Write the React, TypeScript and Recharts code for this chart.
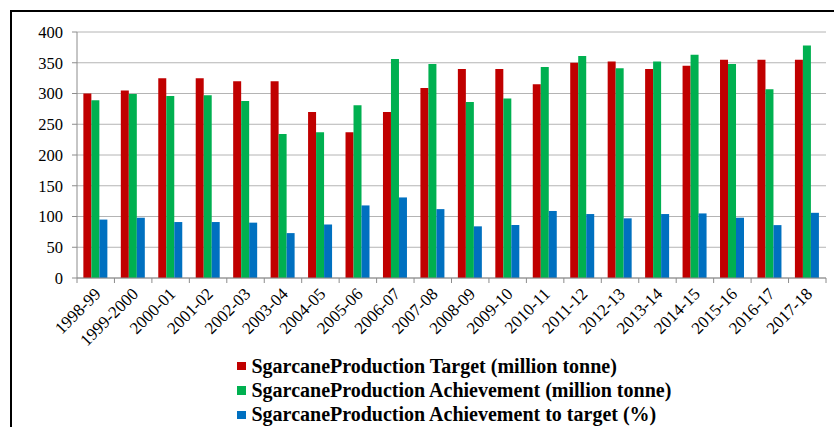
import { Bar, BarChart, CartesianGrid, Legend, XAxis, YAxis } from 'recharts'

// 사탕수수 생산 목표/실적 (1998-99 ~ 2017-18)
const years = [
  '1998-99', '1999-2000', '2000-01', '2001-02', '2002-03', '2003-04', '2004-05',
  '2005-06', '2006-07', '2007-08', '2008-09', '2009-10', '2010-11', '2011-12',
  '2012-13', '2013-14', '2014-15', '2015-16', '2016-17', '2017-18',
]
const target = [300, 305, 325, 325, 320, 320, 270, 237, 270, 309, 340, 340, 315, 350, 352, 340, 345, 355, 355, 355]
const achievement = [289, 299, 296, 297, 288, 234, 237, 281, 356, 348, 286, 292, 343, 361, 341, 352, 363, 348, 307, 378]
const pctOfTarget = [95, 98, 91, 91, 90, 73, 87, 118, 131, 112, 84, 86, 109, 104, 97, 104, 105, 98, 86, 106]
const yTicks = [0, 50, 100, 150, 200, 250, 300, 350, 400]

const SERIES = [
  { key: 'target', name: 'SgarcaneProduction Target (million tonne)', color: '#C00000' },
  { key: 'achievement', name: 'SgarcaneProduction Achievement (million tonne)', color: '#00B050' },
  { key: 'pct', name: 'SgarcaneProduction Achievement to target (%)', color: '#0070C0' },
]

const data = years.map((y, i) => ({
  year: y,
  target: target[i],
  achievement: achievement[i],
  pct: pctOfTarget[i],
}))

const FONT = '"Liberation Serif", "Times New Roman", serif'
const PLOT_W = 749
const BAND = PLOT_W / years.length

function XTick(props: any) {
  const { x, y, payload, index } = props
  const tx = x + 6
  const ty = y + 9
  return (
    <g>
      <line x1={x - BAND / 2} x2={x - BAND / 2} y1={y - 8} y2={y - 3} stroke="#8c8c8c" />
      {index === years.length - 1 && (
        <line x1={x + BAND / 2} x2={x + BAND / 2} y1={y - 8} y2={y - 3} stroke="#8c8c8c" />
      )}
      <text
        x={tx}
        y={ty}
        textAnchor="end"
        fontSize={17}
        fontFamily={FONT}
        fill="#000"
        transform={`rotate(-45, ${tx}, ${ty})`}
      >
        {payload.value}
      </text>
    </g>
  )
}

function LegendBox(props: any) {
  return (
    <div style={{ fontFamily: FONT, fontWeight: 'bold', fontSize: 20, color: '#000' }}>
      {SERIES.map((s) => (
        <div key={s.key} style={{ display: 'flex', alignItems: 'center', height: 24.4 }}>
          <span style={{ width: 8.5, height: 8.5, background: s.color, marginRight: 6, display: 'inline-block' }} />
          <span>{s.name}</span>
        </div>
      ))}
    </div>
  )
}

export default function App() {
  return (
    <div style={{ position: 'absolute', left: 0, top: 0, width: 834, height: 427, overflow: 'hidden', background: '#fff' }}>
      <div style={{ position: 'absolute', left: 10, top: 10, width: 900, height: 500, border: '2px solid #000' }} />
      <div style={{ position: 'absolute', left: 0, top: 0 }}>
        <BarChart
          width={834}
          height={427}
          data={data}
          margin={{ top: 32, right: 8, left: 17, bottom: 0 }}
          barCategoryGap="17%"
          barGap={0}
        >
          <CartesianGrid vertical={false} stroke="#b4b4b4" />
          <XAxis
            dataKey="year"
            height={149}
            interval={0}
            tickLine={false}
            axisLine={{ stroke: '#8c8c8c' }}
            tick={<XTick />}
          />
          <YAxis
            width={60}
            domain={[0, 400]}
            ticks={yTicks}
            interval={0}
            tickSize={5}
            tickMargin={9}
            tickLine={{ stroke: '#8c8c8c' }}
            axisLine={{ stroke: '#8c8c8c' }}
            tick={{ fontSize: 16.5, fontFamily: FONT, fill: '#000' }}
          />
          <Legend
            layout="vertical"
            verticalAlign="middle"
            align="center"
            content={<LegendBox />}
            wrapperStyle={{ top: 354, left: 237, width: 480 }}
          />
          {SERIES.map((s) => (
            <Bar key={s.key} dataKey={s.key} name={s.name} fill={s.color} isAnimationActive={false} />
          ))}
        </BarChart>
      </div>
    </div>
  )
}
